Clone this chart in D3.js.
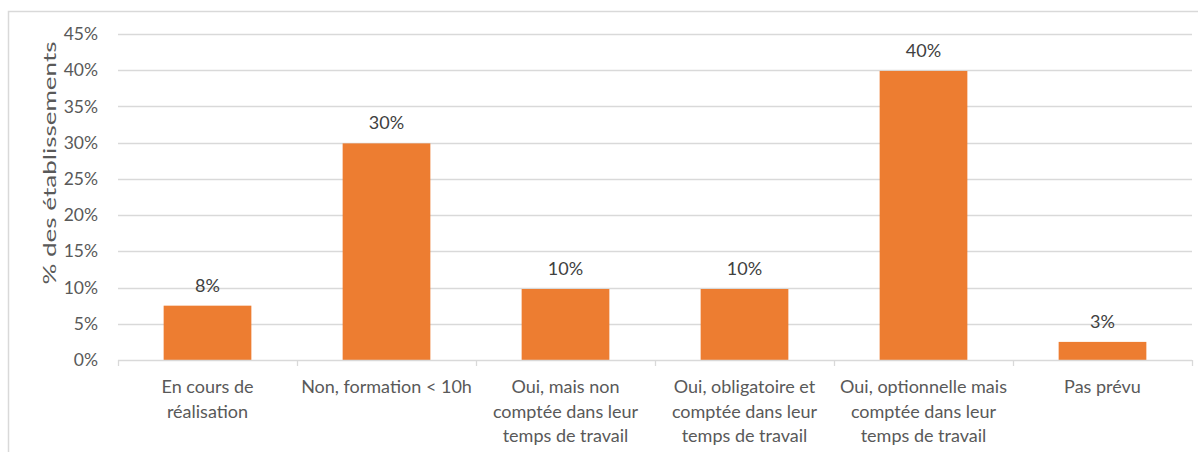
<!DOCTYPE html>
<html>
<head>
<meta charset="utf-8">
<script src="https://cdn.jsdelivr.net/npm/d3@7"></script>
<style>
  body { margin: 0; background: #fff; }
  svg { display: block; font-family: Lato, "Open Sans", sans-serif; }
</style>
</head>
<body>
<svg id="chart" width="1198" height="452"></svg>
<script>
var categories = [
  ["En cours de", "réalisation"],
  ["Non, formation < 10h"],
  ["Oui, mais non", "comptée dans leur", "temps de travail"],
  ["Oui, obligatoire et", "comptée dans leur", "temps de travail"],
  ["Oui, optionnelle mais", "comptée dans leur", "temps de travail"],
  ["Pas prévu"]
];
var values = [0.075, 0.299, 0.098, 0.098, 0.399, 0.025];
var yTicks = [0, 0.05, 0.10, 0.15, 0.20, 0.25, 0.30, 0.35, 0.40, 0.45];
var yTitle = "% des établissements";

var svg = d3.select("#chart");
var margin = {left: 118, right: 6, top: 34, bottom: 92};
var W = 1198, H = 452;

// outer frame, cut off at right and bottom like the screenshot
svg.append("rect")
  .attr("x", 8.5).attr("y", 11.5)
  .attr("width", 1200).attr("height", 460)
  .attr("fill", "none").attr("stroke", "#d9d9d9").attr("stroke-width", 1.5);

var x = d3.scaleBand()
  .domain(d3.range(categories.length))
  .range([margin.left, W - margin.right])
  .paddingInner(0.51).paddingOuter(0.255);

var y = d3.scaleLinear()
  .domain([0, 0.45])
  .range([H - margin.bottom, margin.top]);

var fmt = d3.format(".0%");

// gridlines
svg.append("g")
  .selectAll("line")
  .data(yTicks.slice(1))
  .join("line")
  .attr("x1", margin.left).attr("x2", W - margin.right)
  .attr("y1", function(d) { return Math.round(y(d)) + 0.5; })
  .attr("y2", function(d) { return Math.round(y(d)) + 0.5; })
  .attr("stroke", "#d9d9d9").attr("stroke-width", 1.3);

// y axis labels
var yAxis = d3.axisLeft(y).tickValues(yTicks).tickFormat(fmt).tickSize(0).tickPadding(0);
svg.append("g")
  .attr("transform", "translate(" + (margin.left - 20) + ",0)")
  .call(yAxis)
  .call(function(g) { g.select(".domain").remove(); })
  .selectAll("text")
  .attr("fill", "#595959")
  .style("font-size", "17.5px")
  .style("font-family", "Lato, sans-serif");

// bars
svg.append("g")
  .selectAll("rect")
  .data(values)
  .join("rect")
  .attr("x", function(d, i) { return x(i); })
  .attr("width", x.bandwidth())
  .attr("y", function(d) { return y(d); })
  .attr("height", function(d) { return y(0) - y(d); })
  .attr("fill", "#ed7d31");

// value labels
svg.append("g")
  .selectAll("text")
  .data(values)
  .join("text")
  .attr("x", function(d, i) { return x(i) + x.bandwidth() / 2; })
  .attr("y", function(d) { return y(d) - 14; })
  .attr("text-anchor", "middle")
  .attr("fill", "#404040")
  .style("font-size", "18px")
  .text(function(d) { return Math.round(d * 100 + 1e-9) + "%"; });

// x axis
var xAxisG = svg.append("g");
xAxisG.append("line")
  .attr("x1", margin.left).attr("x2", W - margin.right)
  .attr("y1", y(0) + 0.5).attr("y2", y(0) + 0.5)
  .attr("stroke", "#d9d9d9").attr("stroke-width", 1.3);
var edges = d3.range(categories.length + 1).map(function(i) {
  return margin.left + i * (W - margin.right - margin.left) / categories.length;
});
xAxisG.selectAll(".tick")
  .data(edges)
  .join("line")
  .attr("x1", function(d) { return Math.round(d) + 0.5; })
  .attr("x2", function(d) { return Math.round(d) + 0.5; })
  .attr("y1", y(0)).attr("y2", y(0) + 6)
  .attr("stroke", "#d9d9d9").attr("stroke-width", 1.3);

var labels = xAxisG.selectAll("text.cat")
  .data(categories)
  .join("text")
  .attr("class", "cat")
  .attr("text-anchor", "middle")
  .attr("fill", "#595959")
  .style("font-size", "18px")
  .attr("transform", function(d, i) {
    return "translate(" + (x(i) + x.bandwidth() / 2) + "," + (y(0) + 33) + ")";
  });
labels.selectAll("tspan")
  .data(function(d) { return d; })
  .join("tspan")
  .attr("x", 0)
  .attr("dy", function(d, i) { return i === 0 ? 0 : 24.5; })
  .text(function(d) { return d; });

// y title
svg.append("text")
  .attr("transform", "translate(56,163) rotate(-90)")
  .attr("text-anchor", "middle")
  .attr("fill", "#595959")
  .style("font-size", "18px")
  .attr("textLength", 243)
  .attr("lengthAdjust", "spacingAndGlyphs")
  .text(yTitle);
</script>
</body>
</html>
